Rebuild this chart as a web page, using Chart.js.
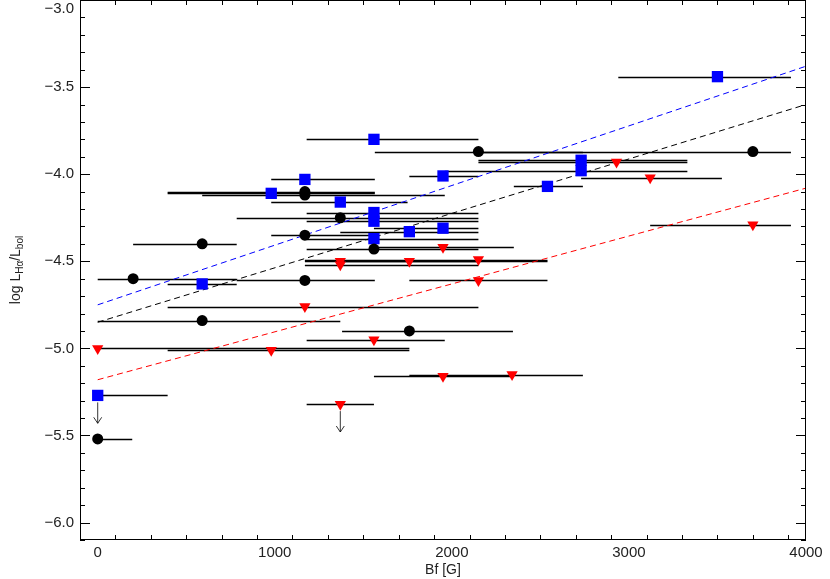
<!DOCTYPE html>
<html>
<head>
<meta charset="utf-8">
<script src="https://cdn.jsdelivr.net/npm/chart.js@4/dist/chart.umd.min.js"></script>
<style>
  body { margin: 0; background: #fff; }
  #wrap { width: 830px; height: 579px; }
</style>
</head>
<body>
<div id="wrap"><canvas id="grafico"></canvas></div>
<script>
// detections (black circles): [x, y, xmin, xmax]
const circulos = [
    [0, -5.52, 0, 195], [200, -4.60, 0, 785], [590, -4.40, 200, 785], [590, -4.84, 0, 1370],
    [1170, -4.10, 395, 1565], [1170, -4.12, 590, 1960], [1170, -4.35, 980, 1565], [1170, -4.61, 785, 1565],
    [1370, -4.25, 785, 2150], [1560, -4.43, 1180, 2150], [1760, -4.90, 1380, 2345],
    [2150, -3.87, 1565, 2740], [3700, -3.87, 2150, 3915]
];
// blue squares
const quadrados = [
    [0, -5.27, 0, 395], [590, -4.63, 395, 785], [980, -4.11, 395, 1565], [1170, -4.03, 980, 1565],
    [1370, -4.16, 980, 1750], [1560, -3.80, 1180, 2150], [1560, -4.22, 1180, 2150], [1560, -4.27, 1180, 2150],
    [1560, -4.37, 1180, 2150], [1760, -4.33, 1370, 2150], [1950, -4.31, 1560, 2150], [1950, -4.01, 1760, 2150],
    [2540, -4.07, 2350, 2740], [2730, -3.92, 2150, 3330], [2730, -3.98, 1960, 3330], [3500, -3.44, 2940, 3915]
];
// red triangles
const triangulos = [
    [0, -5.00, 0, 1760], [980, -5.01, 395, 1760], [1170, -4.76, 395, 2150], [1370, -4.50, 1170, 2150],
    [1370, -4.52, 1170, 2150], [1370, -5.32, 1180, 1560], [1560, -4.95, 1180, 1960], [1760, -4.50, 1380, 2540],
    [1950, -4.42, 1560, 2350], [1950, -5.16, 1560, 2345], [2340, -5.15, 1760, 2740], [2150, -4.49, 1170, 2540],
    [2150, -4.61, 1760, 2540], [2930, -3.93, 2150, 3330], [3120, -4.02, 2730, 3525], [3700, -4.29, 3120, 3915]
];
// upper-limit arrows [x, yFrom, yTo]
const setas = [[0, -5.31, -5.43], [1370, -5.36, -5.48]];
// fits
const ajustes = [
    { cor: '#0000ff', pts: [[0, -4.75], [4000, -3.38]] },
    { cor: '#000000', pts: [[0, -4.85], [4000, -3.60]] },
    { cor: '#ff0000', pts: [[0, -5.18], [4000, -4.08]] }
];
const xTicks = [0, 1000, 2000, 3000, 4000];
const yTicks = [-3.0, -3.5, -4.0, -4.5, -5.0, -5.5, -6.0];

const FONT = '"Liberation Sans", Arial, sans-serif';
const toPts = arr => arr.map(p => ({ x: p[0], y: p[1], x0: p[2], x1: p[3] }));

const barrasPlugin = {
    id: 'barras',
    beforeDatasetsDraw(chart) {
        const { ctx, scales: { x, y } } = chart;
        ctx.save();
        ctx.strokeStyle = '#000';
        ctx.lineWidth = 1.3;
        [circulos, quadrados, triangulos].forEach(arr => arr.forEach(p => {
            const py = Math.round(y.getPixelForValue(p[1])) + 0.5;
            ctx.beginPath();
            ctx.moveTo(x.getPixelForValue(p[2]), py);
            ctx.lineTo(x.getPixelForValue(p[3]), py);
            ctx.stroke();
        }));
        ctx.lineWidth = 0.8;
        setas.forEach(s => {
            const px = x.getPixelForValue(s[0]);
            const y0 = y.getPixelForValue(s[1]), y1 = y.getPixelForValue(s[2]);
            ctx.beginPath();
            ctx.moveTo(px, y0); ctx.lineTo(px, y1);
            ctx.moveTo(px - 4, y1 - 6); ctx.lineTo(px, y1); ctx.lineTo(px + 4, y1 - 6);
            ctx.stroke();
        });
        ctx.restore();
    },
    afterDraw(chart) {
        const { ctx, chartArea: a, scales: { x, y } } = chart;
        ctx.save();
        ctx.strokeStyle = '#000';
        ctx.lineWidth = 1;
        ctx.strokeRect(a.left + 0.5, a.top + 0.5, a.right - a.left - 1, a.bottom - a.top - 1);
        ctx.beginPath();
        for (let v = -100; v <= 4000; v += 200) {
            const px = Math.round(x.getPixelForValue(v)) + 0.5;
            const len = (v % 1000 === 0) ? 10 : 5;
            ctx.moveTo(px, a.bottom); ctx.lineTo(px, a.bottom - len);
            ctx.moveTo(px, a.top); ctx.lineTo(px, a.top + len);
        }
        for (let i = -61; i <= -30; i++) {
            const v = i / 10;
            const py = Math.round(y.getPixelForValue(v)) + 0.5;
            const len = (i % 5 === 0) ? 10 : 5;
            ctx.moveTo(a.left, py); ctx.lineTo(a.left + len, py);
            ctx.moveTo(a.right, py); ctx.lineTo(a.right - len, py);
        }
        ctx.stroke();
        ctx.fillStyle = '#222';
        ctx.font = '15px ' + FONT;
        ctx.textAlign = 'center';
        ctx.textBaseline = 'top';
        xTicks.forEach(v => ctx.fillText(String(v), x.getPixelForValue(v), a.bottom + 5));
        ctx.textAlign = 'right';
        ctx.textBaseline = 'middle';
        yTicks.forEach(v => ctx.fillText(v.toFixed(1).replace('-', '\u2212'), a.left - 6, Math.max(9, y.getPixelForValue(v))));
        ctx.textAlign = 'center';
        ctx.textBaseline = 'top';
        ctx.font = '14px ' + FONT;
        ctx.fillText('Bf [G]', (a.left + a.right) / 2, a.bottom + 23);
        // y title with subscripts
        ctx.translate(16, (a.top + a.bottom) / 2);
        ctx.rotate(-Math.PI / 2);
        ctx.textAlign = 'left';
        ctx.textBaseline = 'middle';
        const parts = [['log L', 14, 0], ['H\u03b1', 10, 4], ['/L', 14, 0], ['bol', 10, 4]];
        let w = 0;
        parts.forEach(p => { ctx.font = p[1] + 'px ' + FONT; w += ctx.measureText(p[0]).width; });
        let cx = -w / 2;
        parts.forEach(p => {
            ctx.font = p[1] + 'px ' + FONT;
            ctx.fillText(p[0], cx, p[2]);
            cx += ctx.measureText(p[0]).width;
        });
        ctx.restore();
    }
};

const datasets = ajustes.map(f => ({
    type: 'line',
    data: f.pts.map(p => ({ x: p[0], y: p[1] })),
    borderColor: f.cor,
    borderWidth: 1,
    borderDash: [6, 4],
    pointRadius: 0,
    order: 5
}));
datasets.push(
    { data: toPts(circulos), pointStyle: 'circle', pointRadius: 5.5, backgroundColor: '#000', borderWidth: 0, order: 1 },
    { data: toPts(quadrados), pointStyle: 'rect', pointRadius: 8, backgroundColor: '#0000ff', borderWidth: 0, order: 1 },
    { data: toPts(triangulos), pointStyle: 'triangle', rotation: 180, pointRadius: 6.5, backgroundColor: '#ff0000', borderWidth: 0, order: 1 }
);

new Chart(document.getElementById('grafico').getContext('2d'), {
    type: 'scatter',
    data: { datasets },
    plugins: [barrasPlugin],
    options: {
        responsive: true,
        maintainAspectRatio: false,
        animation: false,
        layout: { autoPadding: false, padding: { top: 0, right: 24, left: 0, bottom: 0 } },
        plugins: { legend: { display: false }, tooltip: { enabled: false } },
        scales: {
            x: {
                min: -100, max: 4000,
                grid: { display: false }, border: { display: false },
                ticks: { display: false },
                afterFit: s => { s.height = 39; }
            },
            y: {
                min: -6.1, max: -3.0,
                grid: { display: false }, border: { display: false },
                ticks: { display: false },
                afterFit: s => { s.width = 80; }
            }
        }
    }
});
</script>
</body>
</html>
